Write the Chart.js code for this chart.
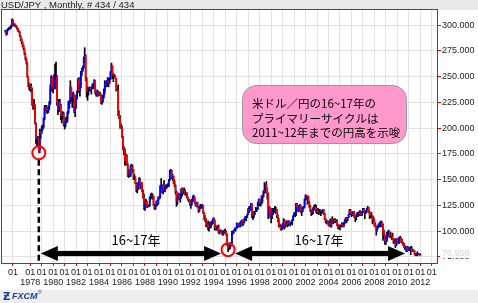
<!DOCTYPE html>
<html><head><meta charset="utf-8">
<script src="https://cdn.jsdelivr.net/npm/chart.js@4.4.1/dist/chart.umd.min.js"></script>
<style>html,body{margin:0;padding:0;background:#fff;}canvas{display:block;}</style>
</head><body>
<canvas id="c" width="478" height="303"></canvas>
<script>
// ---- monthly bars (index 0 = first bar slot; Jan 1978 = bar 29) ----
const closes = [
 null,null,null,294,291,295,296,297,297,299,304,302,301,300,299,297,295,294,290,287,284,281,278,273,268,264,250,244,240,
 241,238,223,222,223,204,189,190,189,176,197,195, // 1978
 200,201,209,219,220,217,217,220,224,238,250,240, // 1979
 238,250,250,250,225,218,225,222,213,212,214,203, // 1980
 205,207,209,215,225,225,240,230,230,233,216,220, // 1981
 230,236,247,236,242,255,257,259,268,270,247,235, // 1982
 238,238,239,237,239,240,241,246,236,233,235,232, // 1983
 234,233,225,226,231,233,243,242,246,246,243,248, // 1984
 254,261,252,251,251,248,237,237,217,211,202,200, // 1985
 192,180,179,168,173,164,154,154,154,163,162,160, // 1986
 153,153,146,140,144,147,150,142,146,138,133,121, // 1987
 127,128,124,125,125,133,133,135,134,125,122,125, // 1988
 129,127,133,132,144,144,138,145,140,143,143,143, // 1989
 144,150,158,159,152,153,147,144,138,129,133,135, // 1990
 131,133,141,137,139,138,137,137,133,130,130,125, // 1991
 127,129,133,133,128,125,128,123,120,123,124,124, // 1992
 125,118,115,111,107,106,105,104,105,108,109,112, // 1993
 109,104,102,102,104,99,100,100,99,97,99,100,     // 1994
 99,97,86,84,84,85,88,98,100,101,102,103,         // 1995
 107,105,107,105,109,110,107,109,112,114,114,116, // 1996
 121,120,124,127,117,115,119,119,121,121,128,131, // 1997
 127,127,134,133,139,138,145,142,136,116,123,113, // 1998
 116,119,119,119,121,121,115,110,106,104,102,102, // 1999
 107,110,105,108,108,106,110,107,108,109,111,114, // 2000
 116,117,126,124,119,125,125,119,119,122,124,131, // 2001
 135,134,133,129,124,120,120,118,122,123,122,119, // 2002
 120,118,118,119,119,120,121,117,112,110,110,107, // 2003
 106,109,104,111,110,109,111,109,110,106,103,103, // 2004
 104,105,107,105,108,111,113,111,113,116,120,118, // 2005
 117,116,118,114,113,114,115,117,118,117,116,119, // 2006
 121,119,118,120,122,123,119,116,115,115,111,112, // 2007
 106,104,100,104,106,106,108,109,106,99,96,91,    // 2008
 90,98,99,99,95,96,95,93,90,90,86,93,             // 2009
 90,89,94,94,91,88,87,84,84,80,84,81,             // 2010
 82,82,83,81,82,80,77,77,77,78,78,77,             // 2011
 76                                               // 2012
];
const highs = [
 null,null,null,295,293,296,297,298,298,300,306,305,302,301,300,298,297,295,293,289,286,283,280,276,270,266,262,248,243,
 242,243,239,226,228,222,205,191,192,190,199,198,
 202,203,210,222,222,222,219,221,226,242,251,250,
 242,252,262,264,251,228,228,228,223,214,216,215,
 206,210,211,216,226,227,246,239,234,235,233,223,
 232,236,248,249,243,255,258,260,269,278,271,249,
 240,239,240,239,240,243,242,247,246,236,237,236,
 235,235,233,226,232,238,246,244,246,249,248,249,
 255,263,260,253,252,250,248,240,242,216,212,204,
 202,192,182,180,175,174,166,160,156,164,165,164,
 160,155,152,147,145,147,152,151,146,147,140,136,
 130,131,129,126,125,133,136,137,136,134,126,126,
 129,130,133,134,144,151,144,145,149,144,145,145,
 146,150,159,160,159,155,153,149,145,139,134,137,
 136,136,141,142,140,142,140,137,137,133,131,130,
 127,131,134,135,133,128,128,128,124,124,126,125,
 126,125,118,115,112,108,110,109,106,109,110,112,
 113,111,106,104,105,106,100,101,101,100,100,101,
 102,100,97,87,87,85,89,100,100,101,103,103,
 108,107,107,108,109,110,111,109,112,114,114,116,
 122,124,124,127,127,115,119,119,123,122,128,131,
 131,128,134,135,139,147,145,148,139,137,124,123,
 116,122,122,122,124,123,121,116,112,107,106,105,
 107,112,111,108,110,109,110,109,108,109,111,115,
 118,118,127,127,122,125,126,125,122,123,124,131,
 135,134,134,134,128,125,120,121,123,125,126,125,
 121,122,121,121,119,120,121,121,117,112,110,110,
 108,110,112,111,114,111,112,112,111,111,106,106,
 105,106,108,108,108,111,113,113,113,116,121,121,
 118,119,118,119,114,116,118,118,119,120,118,119,
 122,122,119,120,122,124,123,119,117,118,115,114,
 110,108,104,105,106,108,109,110,109,107,101,96,
 94,99,100,101,99,99,96,98,93,92,92,93,
 93,92,94,95,94,92,89,88,86,84,85,85,
 84,84,85,85,82,81,81,78,78,80,78,78,
 78
];
const lows = [
 null,null,null,293,290,293,295,296,296,297,302,301,299,299,298,296,294,293,289,285,282,279,276,271,266,262,249,240,237,
 236,235,222,218,220,204,185,182,183,176,179,190,
 195,198,200,208,217,215,214,215,218,223,236,236,
 234,238,247,238,222,213,216,216,208,205,209,202,
 199,201,205,206,214,219,224,226,220,225,215,211,
 219,228,234,235,231,239,251,255,258,264,246,230,
 227,232,236,236,233,239,238,240,233,231,231,231,
 232,232,224,223,225,229,236,240,240,241,240,244,
 247,254,248,245,250,248,236,236,212,209,200,200,
 191,179,174,164,164,164,153,152,153,153,161,157,
 150,150,146,138,137,140,145,141,142,138,132,121,
 120,127,123,123,124,124,131,132,131,125,121,121,
 124,125,126,131,132,138,137,136,139,138,141,142,
 143,143,149,156,151,149,146,143,136,124,126,131,
 131,128,132,134,136,137,135,134,132,130,128,125,
 122,125,129,130,127,124,125,123,118,119,122,122,
 123,117,111,109,104,105,101,100,103,103,106,107,
 108,101,101,101,101,98,97,99,98,96,96,98,
 98,96,86,80,82,83,86,88,97,98,101,100,
 104,103,105,104,104,108,105,106,108,111,110,113,
 116,118,120,122,113,111,113,116,119,119,121,125,
 125,124,126,128,133,137,137,141,131,112,116,113,
 108,112,116,118,118,117,113,109,104,104,101,101,
 102,104,102,104,106,104,105,106,105,107,106,110,
 114,114,115,120,119,119,123,118,115,119,122,123,
 130,131,126,127,123,119,115,116,117,121,120,118,
 117,117,116,118,115,117,118,116,111,108,107,107,
 105,105,104,104,108,107,108,108,109,105,102,102,
 101,104,104,105,104,107,110,108,110,113,116,116,
 114,115,115,113,109,111,114,114,115,116,115,115,
 118,118,112,117,118,121,118,112,113,113,107,110,
 105,104,96,101,103,104,104,107,104,91,93,87,
 87,90,94,96,94,94,92,92,88,89,84,86,
 89,88,88,93,89,88,86,84,82,80,80,81,
 82,81,77,81,80,80,77,76,76,76,77,77,
 76
];
const slotCount = 455;
const tickBars = [11,29,41,53,65,77,89,101,113,125,137,149,161,173,185,197,209,221,233,245,257,269,281,293,305,317,329,341,353,365,377,389,401,413,425,437,449];
const tickYears = ["","1978","","1980","","1982","","1984","","1986","","1988","","1990","","1992","","1994","","1996","","1998","","2000","","2002","","2004","","2006","","2008","","2010","","2012",""];
const yTicks = [75,100,125,150,175,200,225,250,275,300];
const lowBar1 = 38, lowBar2 = 236; // Oct 1978, Apr 1995

// ---- build library data ----
const labels = Array.from({length: slotCount}, (_, i) => String(i));
const opens = closes.map((c, i) => (c == null ? null : (i > 0 && closes[i-1] != null ? closes[i-1] : c)));
const bodies = closes.map((c, i) => (c == null ? null : [opens[i], c]));
const wicks = closes.map((c, i) => (c == null ? null : [lows[i], highs[i]]));
const bodyColors = closes.map((c, i) => (c != null && c >= opens[i] ? '#0000ff' : '#ff0000'));

const deco = {
  id: 'deco',
  beforeDraw(chart) {
    const ctx = chart.ctx;
    ctx.save();
    ctx.fillStyle = '#ffffff'; ctx.fillRect(0, 0, 478, 303);
    ctx.fillStyle = '#e9e9e9'; ctx.fillRect(0, 0, 478, 10);
    ctx.fillStyle = '#eeeeee'; ctx.fillRect(0, 290, 478, 13);
    ctx.restore();
  },
  afterDatasetsDraw(chart) {
    const ctx = chart.ctx, xs = chart.scales.x, ys = chart.scales.y;
    ctx.save();
    // pink note
    ctx.beginPath();
    ctx.roundRect(242.5, 85.5, 164, 58, 14);
    ctx.fillStyle = '#ff99cc'; ctx.fill();
    ctx.strokeStyle = '#999999'; ctx.lineWidth = 1; ctx.stroke();
    ctx.fillStyle = '#000'; ctx.font = '11.5px "Noto Sans CJK JP"';
    ctx.textBaseline = 'middle'; ctx.textAlign = 'left';
    ctx.fillText('米ドル／円の16~17年の', 252, 103.5);
    ctx.fillText('プライマリーサイクルは', 252, 118.5);
    ctx.fillText('2011~12年までの円高を示唆', 252, 133);
    // circles
    const c1x = xs.getPixelForValue(lowBar1), c1y = ys.getPixelForValue(lows[lowBar1]);
    const c2x = xs.getPixelForValue(lowBar2), c2y = ys.getPixelForValue(lows[lowBar2]) - 2;
    // dashed line
    ctx.beginPath(); ctx.setLineDash([6, 3.5]); ctx.lineWidth = 2.5; ctx.strokeStyle = '#000';
    ctx.moveTo(c1x, c1y + 7); ctx.lineTo(c1x, chart.chartArea.bottom); ctx.stroke();
    ctx.setLineDash([]);
    // arrows
    function arrow(x1, x2, y) {
      const hl = 17, hh = 7.5, t = 2.6;
      ctx.fillStyle = '#000';
      ctx.fillRect(x1 + hl - 1, y - t, (x2 - x1) - 2 * hl + 2, 2 * t);
      ctx.beginPath(); ctx.moveTo(x1, y); ctx.lineTo(x1 + hl, y - hh); ctx.lineTo(x1 + hl, y + hh); ctx.closePath(); ctx.fill();
      ctx.beginPath(); ctx.moveTo(x2, y); ctx.lineTo(x2 - hl, y - hh); ctx.lineTo(x2 - hl, y + hh); ctx.closePath(); ctx.fill();
    }
    arrow(c1x + 2, c2x - 7, 253.5);
    arrow(c2x + 7, 405, 253.5);
    ctx.font = '13px "Noto Sans CJK JP"'; ctx.textAlign = 'center'; ctx.fillStyle = '#000';
    ctx.fillText('16~17年', 136, 240);
    ctx.fillText('16~17年', 319, 240);
    ctx.lineWidth = 2; ctx.strokeStyle = '#ff0000';
    ctx.beginPath(); ctx.arc(c1x, c1y, 6.5, 0, Math.PI * 2); ctx.stroke();
    ctx.beginPath(); ctx.arc(c2x, c2y, 6.5, 0, Math.PI * 2); ctx.stroke();
    ctx.restore();
  },
  afterDraw(chart) {
    const ctx = chart.ctx, a = chart.chartArea;
    ctx.save();
    ctx.strokeStyle = '#4a4a4a'; ctx.lineWidth = 1;
    ctx.strokeRect(a.left - 0.5, a.top - 0.5, a.right - a.left + 1, a.bottom - a.top + 1);
    ctx.fillStyle = '#222'; ctx.font = '9.5px "Liberation Sans"'; ctx.textBaseline = 'alphabetic'; ctx.textAlign = 'left';
    ctx.fillText('USD/JPY , Monthly, # 434 / 434', 1, 8);
    // last price box
    ctx.fillStyle = '#ffffff'; ctx.fillRect(440, 248, 36, 10);
    ctx.fillStyle = '#d4d4d4'; ctx.font = '9px "Liberation Sans"'; ctx.textBaseline = 'middle';
    ctx.fillText('76.958', 442, 253.5);
    // logo
    ctx.fillStyle = '#1d3f9e'; ctx.font = 'bold 10px "DejaVu Sans"';
    ctx.fillText('Ƶ', 3, 297);
    ctx.font = 'italic bold 9px "Liberation Sans"';
    ctx.fillText('FXCM', 12, 297);
    ctx.font = '5px "Liberation Sans"';
    ctx.fillText('®', 38, 293);
    ctx.restore();
  }
};

new Chart(document.getElementById('c'), {
  type: 'bar',
  data: {
    labels,
    datasets: [
      { data: bodies, backgroundColor: bodyColors, barThickness: 1, grouped: false, order: 0 },
      { data: wicks, backgroundColor: '#000000', barThickness: 1, grouped: false, order: 1 }
    ]
  },
  options: {
    responsive: false, animation: false, devicePixelRatio: 1,
    layout: { padding: { top: 10, left: 2, right: 0, bottom: 0 } },
    plugins: { legend: { display: false }, tooltip: { enabled: false } },
    scales: {
      x: {
        offset: true,
        afterBuildTicks(s) { s.ticks = tickBars.map(v => ({ value: v })); },
        afterFit(s) { s.height = 40; },
        grid: { color: '#e2e2e2', offset: false, tickColor: '#ff0000', tickLength: 3, drawOnChartArea: true },
        border: { color: '#4a4a4a' },
        ticks: {
          autoSkip: false, maxRotation: 0, minRotation: 0, padding: 1,
          color: '#222', font: { family: 'Liberation Sans', size: 9, lineHeight: 1.15 },
          callback(v, i) { return tickYears[i] ? ['01', tickYears[i]] : ['01']; }
        }
      },
      y: {
        position: 'right', min: 69, max: 314.6,
        afterBuildTicks(s) { s.ticks = yTicks.map(v => ({ value: v })); },
        afterFit(s) { s.width = 41; },
        grid: { color: '#e2e2e2', tickColor: '#ff0000', tickLength: 4 },
        border: { color: '#4a4a4a' },
        ticks: { padding: 1, color: '#222', font: { family: 'Liberation Sans', size: 9 }, callback: v => v.toFixed(3) }
      }
    }
  },
  plugins: [deco]
});
</script>
</body></html>
